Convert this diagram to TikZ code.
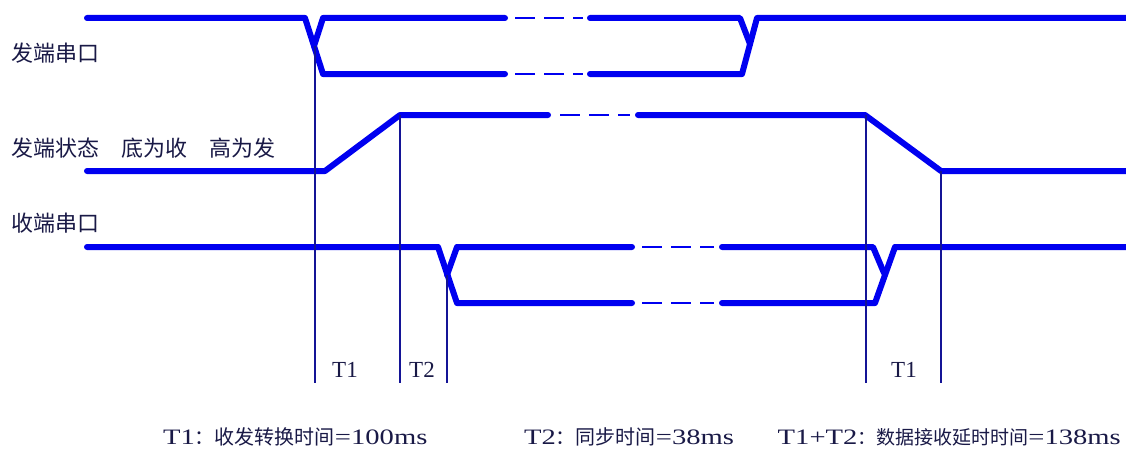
\documentclass[tikz,border=0pt]{standalone}
\usepackage{fontspec}
\setmainfont{Liberation Serif}
\newfontfamily\cjk{Noto Sans CJK SC}
\newfontfamily\widelat[FakeStretch=1.3]{Liberation Serif}
\definecolor{sig}{RGB}{0,0,240}
\definecolor{markc}{RGB}{20,20,150}
\definecolor{txt}{RGB}{25,25,70}
\begin{document}
\begin{tikzpicture}[x=1pt,y=-1pt,
  sigline/.style={sig, line width=6pt, line cap=round, line join=round},
  gapline/.style={sig, line width=1.6pt, dash pattern=on 20pt off 9pt},
  marker/.style={markc, line width=1.5pt},
  lab/.style={txt, font=\cjk\fontsize{22}{22}\selectfont, anchor=west, inner sep=0pt},
  tlab/.style={txt, font=\fontsize{23}{23}\selectfont, inner sep=0pt},
  note/.style={txt, font=\widelat\fontsize{22}{22}\selectfont, anchor=west, inner sep=0pt}]
\useasboundingbox (0,0) rectangle (1126,452);

% labels
\node[lab] (l1) at (11,53) {发端串口};
\node[lab] (l2) at (11,148) {发端状态\hspace{22pt}底为收\hspace{22pt}高为发};
\node[lab] (l3) at (11,223) {收端串口};

% signal 1: sender serial port
\draw[sigline] (87,18) -- (305,18) -- (323,74) -- (505,74);
\draw[sigline] (314,46) -- (323,18) -- (505,18);
\draw[gapline] (515,18) -- (583,18);
\draw[gapline] (515,74) -- (583,74);
\draw[sigline] (590,18) -- (740,18) -- (750,44);
\draw[sigline] (590,74) -- (742,74) -- (757,18) -- (1130,18);

% signal 2: sender state
\draw[sigline] (87,171) -- (325,171) -- (400,115) -- (548,115);
\draw[gapline] (560,115) -- (630,115);
\draw[sigline] (638,115) -- (865,115) -- (941,171) -- (1130,171);

% signal 3: receiver serial port
\draw[sigline] (87,247) -- (438,247) -- (457,303) -- (632,303);
\draw[sigline] (447,275) -- (457,247) -- (632,247);
\draw[gapline] (642,247) -- (714,247);
\draw[gapline] (642,303) -- (714,303);
\draw[sigline] (722,247) -- (873,247) -- (884,273);
\draw[sigline] (722,303) -- (875,303) -- (895,247) -- (1130,247);

% markers
\coordinate (m1) at (315,46);
\coordinate (m2) at (400,115);
\coordinate (m3) at (447,275);
\coordinate (m4) at (866,115);
\coordinate (m5) at (941,171);
\foreach \m in {m1,m2,m3,m4,m5}
  \draw[marker] (\m) -- (\m |- 0,383);

\node[tlab] (t1a) at (345,370) {T1};
\node[tlab] (t2) at (422,370) {T2};
\node[tlab] (t1b) at (904,370) {T1};

% notes
\node[note] (n1) at (163,437) {T1{\cjk\fontsize{20}{20}\selectfont ：收发转换时间}=100ms};
\node[note] (n2) at (524,437) {T2{\cjk\fontsize{20}{20}\selectfont ：同步时间}=38ms};
\node[note, anchor=east] (n3) at (1121,437) {T1+T2{\cjk\fontsize{19}{19}\selectfont ：数据接收延时时间}=138ms};
\end{tikzpicture}
\end{document}
